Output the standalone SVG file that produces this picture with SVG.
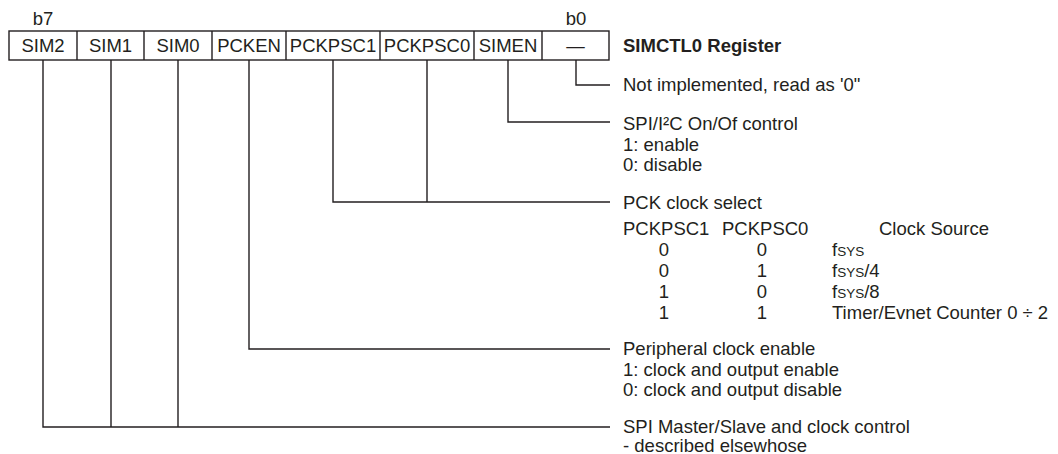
<svg xmlns="http://www.w3.org/2000/svg" width="1058" height="454" viewBox="0 0 1058 454">
<style>
  text { font-family: "Liberation Sans", Arial, sans-serif; font-size: 18.5px; fill: #231f20; }
  .c { text-anchor: middle; }
  .b { font-weight: bold; }
  .sc { font-size: 13.5px; }
  .cell { fill: #ffffff; stroke: #231f20; stroke-width: 1.4; }
  .wire { fill: none; stroke: #231f20; stroke-width: 1.4; }
</style>
<rect width="1058" height="454" fill="#ffffff"/>

<g id="register">
  <text class="c" x="43" y="25">b7</text>
  <text class="c" x="576" y="25">b0</text>
  <rect class="cell" x="9" y="31" width="600" height="29"/>
  <path class="wire" d="M77 31V60M144 31V60M212 31V60M286 31V60M380 31V60M474 31V60M542 31V60"/>
  <text class="c" x="43" y="52">SIM2</text>
  <text class="c" x="110.5" y="52">SIM1</text>
  <text class="c" x="178" y="52">SIM0</text>
  <text class="c" x="249" y="52">PCKEN</text>
  <text class="c" x="333" y="52">PCKPSC1</text>
  <text class="c" x="427" y="52">PCKPSC0</text>
  <text class="c" x="508" y="52">SIMEN</text>
  <text class="c" x="575.5" y="52">—</text>
  <text class="b" x="623" y="52">SIMCTL0 Register</text>
</g>

<g id="connectors">
  <path class="wire" d="M576 60V85H610"/>
  <path class="wire" d="M508 60V122H610"/>
  <path class="wire" d="M427 60V202M333 60V202H610"/>
  <path class="wire" d="M249 60V349H610"/>
  <path class="wire" d="M111 60V427M178 60V427M43 60V427H610"/>
</g>

<g id="bit0">
  <text x="623" y="91">Not implemented, read as '0"</text>
</g>

<g id="simen">
  <text x="623" y="130">SPI/I²C On/Of control</text>
  <text x="623" y="151">1: enable</text>
  <text x="623" y="171">0: disable</text>
</g>

<g id="pckpsc">
  <text x="623" y="209">PCK clock select</text>
  <text x="623" y="235">PCKPSC1</text>
  <text x="722" y="235">PCKPSC0</text>
  <text x="879" y="235">Clock Source</text>
  <text class="c" x="664" y="256">0</text>
  <text class="c" x="762" y="256">0</text>
  <text x="832" y="256">f<tspan class="sc">SYS</tspan></text>
  <text class="c" x="664" y="277">0</text>
  <text class="c" x="762" y="277">1</text>
  <text x="832" y="277">f<tspan class="sc">SYS</tspan>/4</text>
  <text class="c" x="664" y="298">1</text>
  <text class="c" x="762" y="298">0</text>
  <text x="832" y="298">f<tspan class="sc">SYS</tspan>/8</text>
  <text class="c" x="664" y="319">1</text>
  <text class="c" x="762" y="319">1</text>
  <text x="832" y="319">Timer/Evnet Counter 0 ÷ 2</text>
</g>

<g id="pcken">
  <text x="623" y="355">Peripheral clock enable</text>
  <text x="623" y="376">1: clock and output enable</text>
  <text x="623" y="396">0: clock and output disable</text>
</g>

<g id="sim">
  <text x="623" y="433">SPI Master/Slave and clock control</text>
  <text x="623" y="452">- described elsewhose</text>
</g>
</svg>
